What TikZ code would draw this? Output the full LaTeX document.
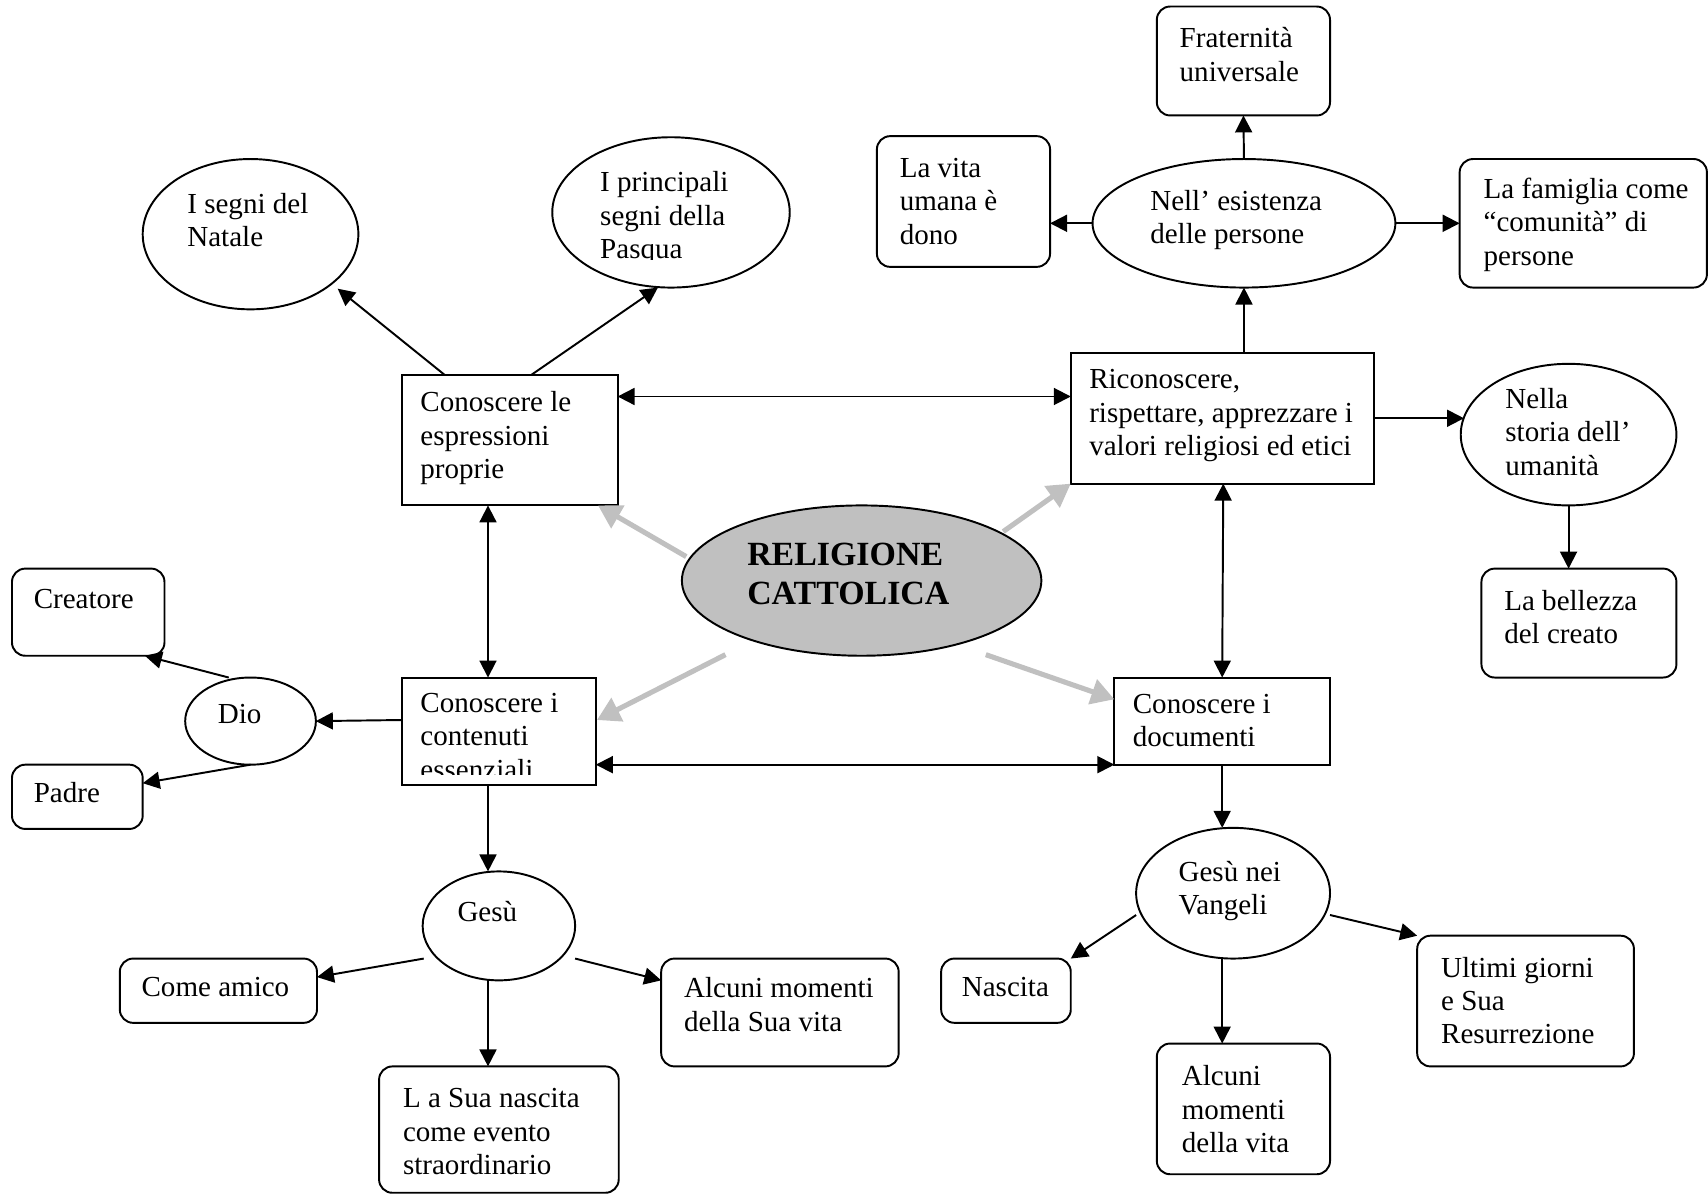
\documentclass[tikz,border=0pt]{standalone}
\usepackage{fontspec}
\setmainfont{Liberation Serif}
\usetikzlibrary{arrows.meta,shapes.geometric,fit,calc}

\definecolor{hubgray}{HTML}{C0C0C0}

% Multi-line labels are placed by the baseline of their last line.
\tikzset{
  shapeline/.style={draw=black, line width=0.8pt, inner sep=0pt, outer sep=0pt},
  sqbox/.style={shapeline, rectangle, fit={#1}},
  rbox/.style={shapeline, rectangle, rounded corners=5.5pt, fit={#1}},
  oval/.style 2 args={shapeline, ellipse, minimum width={#1*0.45pt}, minimum height={#2*0.45pt}},
  txt/.style={anchor=base west, inner sep=0pt, outer sep=0pt, align=left,
              font=\fontsize{12}{13.8}\selectfont},
  oneway/.style={draw=black, line width=0.8pt, -{Triangle[length=7pt,width=7pt]}},
  twoway/.style={draw=black, line width=0.8pt,
                 {Triangle[length=7pt,width=7pt]}-{Triangle[length=7pt,width=7pt]}},
  hublink/.style={draw=hubgray, line width=2.1pt, -{Triangle[length=9.5pt,width=10.5pt]}},
}

\begin{document}
\begin{tikzpicture}[x=0.45pt, y=-0.45pt]
\useasboundingbox (0,0) rectangle (1568,1096);

% ---------- shapes ----------
\node[oval={198}{138}] (natale) at (230,215) {};
\node[oval={218}{138}] (pasqua) at (616,195) {};
\node[sqbox={(369,344) (567,464)}] (esp) {};
\node[sqbox={(983,324) (1261,444)}] (ricon) {};
\node[sqbox={(369,622) (547,721)}] (cont) {};
\node[sqbox={(1023,622) (1221,702)}] (doc) {};
\node[oval={330}{138}, fill=hubgray] (rel) at (791,533) {};

\node[oval={278}{118}] (esist) at (1142,205) {};
\node[rbox={(1062,6) (1221,106)}] (frat) {};
\node[rbox={(805,125) (964,245)}] (vita) {};
\node[rbox={(1340,146) (1567,264)}] (fam) {};
\node[oval={198}{130}] (storia) at (1440,399) {};
\node[rbox={(1360,522) (1539,622)}] (bell) {};

\node[rbox={(11,522) (151,602)}] (creat) {};
\node[oval={120}{80}] (dio) at (230,662) {};
\node[rbox={(11,702) (131,761)}] (padre) {};

\node[oval={140}{100}] (gesu) at (458,850) {};
\node[rbox={(110,880) (291,939)}] (amico) {};
\node[rbox={(607,880) (825,979)}] (momsua) {};
\node[rbox={(348,979) (568,1095)}] (nasc1) {};

\node[oval={178}{120}] (vang) at (1132,820) {};
\node[rbox={(864,880) (983,939)}] (nascita) {};
\node[rbox={(1062,958) (1221,1078)}] (momvita) {};
\node[rbox={(1301,859) (1500,979)}] (ultimi) {};

% ---------- texts ----------
\node[txt] (natale-t) at (172,226.7) {I segni del\\Natale};
\begin{scope}
  \clip (507,126) rectangle (726,238.5);
  \node[txt] (pasqua-t) at (551,237.3) {I principali\\segni della\\Pasqua};
\end{scope}
\node[txt] (esp-t) at (386,439.3) {Conoscere le\\espressioni\\proprie};
\node[txt] (ricon-t) at (1000,418.3) {Riconoscere,\\rispettare, apprezzare i\\valori religiosi ed etici};
\begin{scope}
  \clip (370,623) rectangle (546,711.3);
  \node[txt] (cont-t) at (386,715.3) {Conoscere i\\contenuti\\essenziali};
\end{scope}
\node[txt] (doc-t) at (1040,685.7) {Conoscere i\\documenti};
\node[txt, font=\bfseries\fontsize{14}{16}\selectfont] (rel-t) at (686,554.6) {RELIGIONE\\CATTOLICA};

\node[txt] (esist-t) at (1056,223.7) {Nell’ esistenza\\delle persone};
\node[txt] (frat-t) at (1083,74.7) {Fraternità\\universale};
\node[txt] (vita-t) at (826,224.3) {La vita\\umana è\\dono};
\node[txt] (fam-t) at (1362,243.3) {La famiglia come\\“comunità” di\\persone};
\node[txt] (storia-t) at (1382,436.3) {Nella\\storia dell’\\umanità};
\node[txt] (bell-t) at (1381,590.7) {La bellezza\\del creato};

\node[txt] (creat-t) at (31,559) {Creatore};
\node[txt] (dio-t) at (200,664) {Dio};
\node[txt] (padre-t) at (31,737) {Padre};

\node[txt] (gesu-t) at (420,846) {Gesù};
\node[txt] (amico-t) at (130,915) {Come amico};
\node[txt] (momsua-t) at (628,946.7) {Alcuni momenti\\della Sua vita};
\node[txt] (nasc1-t) at (370,1078.3) {L a Sua nascita\\come evento\\straordinario};

\node[txt] (vang-t) at (1082,839.7) {Gesù nei\\Vangeli};
\node[txt] (nascita-t) at (883,915) {Nascita};
\node[txt] (momvita-t) at (1085,1058.3) {Alcuni\\momenti\\della vita};
\node[txt] (ultimi-t) at (1323,958.3) {Ultimi giorni\\e Sua\\Resurrezione};

% ---------- grey links from the centre ----------
\draw[hublink] ($(rel.center)+(-161,-22)$) -- ($(esp.south east)+(-18,0)$);
\draw[hublink] ($(rel.center)+(130,-45)$) -- (ricon.south west);
\draw[hublink] ($(rel.center)+(-125,68)$) -- ($(cont.north east)+(1,39)$);
\draw[hublink] ($(rel.center)+(114,68)$) -- ($(doc.north west)+(0,20)$);

% ---------- black connectors ----------
\draw[oneway] ($(esp.north west)+(39,0)$) -- ($(natale.center)+(80,50)$);
\draw[oneway] ($(esp.north west)+(119,0)$) -- ($(pasqua.center)+(-12,69)$);
\draw[twoway] ($(esp.north east)+(0,20)$) -- ($(ricon.north west)+(0,40)$);
\draw[twoway] ($(esp.south west)+(79,0)$) -- ($(cont.north west)+(79,0)$);

\draw[oneway] ($(ricon.north west)+(159,0)$) -- (esist.south);
\draw[oneway] (esist.north) -- (frat.south);
\draw[oneway] (esist.west) -- (esist.west -| vita.east);
\draw[oneway] (esist.east) -- (esist.east -| fam.west);
\draw[oneway] ($(ricon.north east)+(0,60)$) -- ($(storia.center)+(-96,-15)$);
\draw[oneway] (storia.south) -- (storia.south |- bell.north);
\draw[twoway] ($(ricon.south west)+(140,0)$) -- (doc.north);

\draw[twoway] (doc.south west -| cont.east) -- (doc.south west);
\draw[oneway] (doc.south) -- (doc.south |- vang.north);
\draw[oneway] ($(vang.center)+(-89,20)$) -- (nascita.north east);
\draw[oneway] (doc.south |- vang.south) -- (doc.south |- momvita.north);
\draw[oneway] ($(vang.center)+(89,20)$) -- (ultimi.north west);

\draw[oneway] ($(cont.north west)+(0,39)$) -- (dio.east);
\draw[oneway] ($(dio.center)+(-20,-40)$) -- ($(creat.south east)+(-18,0)$);
\draw[oneway] (dio.south) -- ($(padre.north east)+(0,17)$);

\draw[oneway] ($(cont.south west)+(79,0)$) -- ($(gesu.center)+(-10,-50)$);
\draw[oneway] ($(gesu.center)+(-69,30)$) -- ($(amico.north east)+(0,17)$);
\draw[oneway] ($(gesu.center)+(70,30)$) -- ($(momsua.north west)+(0,20)$);
\draw[oneway] ($(gesu.center)+(-10,50)$) -- ($(nasc1.north west)+(100,0)$);

\end{tikzpicture}
\end{document}
